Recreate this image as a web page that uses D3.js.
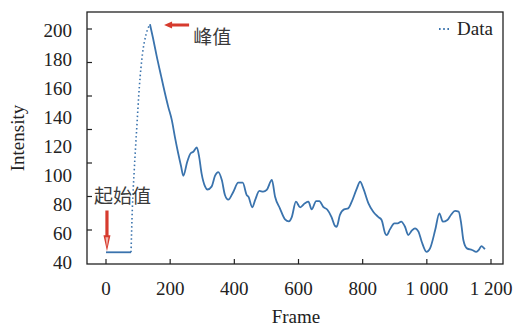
<!DOCTYPE html>
<html>
<head>
<meta charset="utf-8">
<script src="https://cdn.jsdelivr.net/npm/d3@7"></script>
<style>
  body { margin: 0; background: #fff; }
  svg text { font-family: "Liberation Serif", "DejaVu Serif", serif; fill: #222; }
  svg text.cjk { font-family: "Noto Sans CJK SC", sans-serif; fill: #3a3a3a; }
</style>
</head>
<body>
<div id="chart"></div>
<script>
// values
const frames = [0, 78, 82, 88, 96, 104, 114, 125, 137,
  146, 158, 172, 179, 194, 205, 215, 225, 234, 241,
  253, 264, 272, 283, 290, 298, 309, 316, 329, 340,
  350, 361, 371, 381, 397, 412, 426, 439, 444, 456,
  465, 478, 490, 501, 517, 527, 542, 558, 570, 579,
  592, 605, 620, 631, 641, 655, 665, 677, 690, 703,
  714, 719, 729, 742, 755, 766, 782, 792, 802, 818,
  833, 849, 859, 870, 875, 885, 899, 909, 920, 932,
  942, 953, 963, 974, 984, 999, 1010, 1026, 1039, 1050,
  1064, 1075, 1088, 1099, 1107, 1114, 1125, 1141, 1154, 1162,
  1170, 1181];
const intensity = [46.7, 46.7, 76, 103, 133, 161, 184, 197, 204,
  195, 182, 168, 161, 147, 138, 126, 115, 106, 99.5,
  109, 115, 116, 119, 113, 101, 92, 90, 92, 99.5,
  102, 96.5, 86, 83, 88.5, 94.7, 94.7, 86, 85, 77.7,
  82.8, 89, 88.5, 89.7, 96.6, 85, 77, 69.4, 68, 71,
  81.6, 77.7, 80.5, 81.6, 76.3, 82, 82, 78, 76, 71,
  64.8, 64.3, 72.4, 76.3, 77, 81.6, 90.8, 95.4, 90.8, 80.5,
  74.7, 71, 69, 59.8, 58.6, 62.5, 66.7, 66.7, 67.8, 64.3,
  58.6, 61.6, 63.2, 60.9, 54, 47, 49.4, 62, 73.6, 67.8,
  69, 72.4, 75.2, 74.7, 66.7, 55, 49.4, 48.3, 47, 48.3,
  51, 48.8];
const xTicks = [0, 200, 400, 600, 800, 1000, 1200];
const yTicks = [40, 60, 80, 100, 120, 140, 160, 180, 200];
const yMarkTicks = [80, 100, 120, 140, 160, 180, 200];

const width = 514, height = 327;
const plotLeft = 87, plotRight = 503, plotTop = 12, plotBottom = 264;
const lineColor = '#3a73ad', red = '#d63b2e';

const svg = d3.select('#chart').append('svg')
  .attr('width', width).attr('height', height);

const x = d3.scaleLinear().domain([0, 1200]).range([106, 491]);
const y = d3.scaleLinear().domain([40, 200]).range([262, 30]);
// the tick marks of the original axis do not sit on the labels
const yMark = d3.scaleLinear().domain([60, 200]).range([263.5, 29]);

const data = frames.map((f, i) => ({ f: f, v: intensity[i] }));

// frame
svg.append('rect')
  .attr('x', plotLeft).attr('y', plotTop)
  .attr('width', plotRight - plotLeft).attr('height', plotBottom - plotTop)
  .attr('fill', 'none').attr('stroke', '#222').attr('stroke-width', 1.3);

// x ticks (inward)
svg.append('g').selectAll('line').data(xTicks).enter().append('line')
  .attr('x1', d => x(d)).attr('x2', d => x(d))
  .attr('y1', plotBottom).attr('y2', plotBottom - 5)
  .attr('stroke', '#222').attr('stroke-width', 1.2);
svg.append('g').selectAll('text').data(xTicks).enter().append('text')
  .attr('x', d => x(d)).attr('y', 295)
  .attr('text-anchor', 'middle').style('font-size', '19px')
  .text(d => d >= 1000 ? d3.format(',')(d).replace(',', ' ') : d);

// y ticks
svg.append('g').selectAll('line').data(yMarkTicks).enter().append('line')
  .attr('x1', plotLeft).attr('x2', plotLeft + 5)
  .attr('y1', d => yMark(d)).attr('y2', d => yMark(d))
  .attr('stroke', '#222').attr('stroke-width', 1.2);
svg.append('g').selectAll('text').data(yTicks).enter().append('text')
  .attr('x', 72).attr('y', d => y(d)).attr('dy', '0.35em')
  .attr('text-anchor', 'end').style('font-size', '19px')
  .text(d => d);

// axis titles
svg.append('text')
  .attr('transform', 'translate(24,138) rotate(-90)')
  .attr('text-anchor', 'middle').style('font-size', '19px')
  .text('Intensity');
svg.append('text')
  .attr('x', 296).attr('y', 323)
  .attr('text-anchor', 'middle').style('font-size', '19px')
  .text('Frame');

// data line: sparse steep rise shows up as dots
const line = d3.line().x(d => x(d.f)).y(d => y(d.v)).curve(d3.curveMonotoneX);
const rise = data.filter(d => d.f >= 78 && d.f <= 137);
const flat = data.filter(d => d.f <= 78);
const rest = data.filter(d => d.f >= 137);

svg.append('path').datum(flat).attr('d', line)
  .attr('fill', 'none').attr('stroke', lineColor).attr('stroke-width', 1.8);
svg.append('path').datum(rise).attr('d', line)
  .attr('fill', 'none').attr('stroke', lineColor).attr('stroke-width', 1.6)
  .attr('stroke-dasharray', '1.5 2.6');
svg.append('path').datum(rest).attr('d', line)
  .attr('fill', 'none').attr('stroke', lineColor).attr('stroke-width', 1.8)
  .attr('stroke-linejoin', 'round');

// legend
svg.append('line')
  .attr('x1', 439).attr('x2', 451).attr('y1', 29).attr('y2', 29)
  .attr('stroke', lineColor).attr('stroke-width', 1.8)
  .attr('stroke-dasharray', '1.6 2.6');
svg.append('text').attr('x', 457).attr('y', 35)
  .style('font-size', '19px').text('Data');

// annotation: peak (arrow pointing left)
const px0 = x(181), px1 = x(259), py = y(203.5);
svg.append('path')
  .attr('d', `M${px0},${py} L${px0 + 8},${py - 3.5} L${px0 + 8},${py - 1.5} L${px1},${py - 1.5} L${px1},${py + 1.5} L${px0 + 8},${py + 1.5} L${px0 + 8},${py + 3.5} Z`)
  .attr('fill', red);
svg.append('text').attr('class', 'cjk')
  .attr('x', x(272)).attr('y', 44)
  .style('font-size', '19px').text('峰值');

// annotation: start value (arrow pointing down)
const sx = x(3), sy0 = y(75.5), sy1 = y(47.5);
svg.append('path')
  .attr('d', `M${sx},${sy1} L${sx - 3.5},${sy1 - 16} L${sx - 1.6},${sy1 - 16} L${sx - 1.6},${sy0} L${sx + 1.6},${sy0} L${sx + 1.6},${sy1 - 16} L${sx + 3.5},${sy1 - 16} Z`)
  .attr('fill', red);
svg.append('path')
  .attr('d', `M${sx},${sy1 - 4} L${sx - 1.5},${sy1 - 14} L${sx + 1.5},${sy1 - 14} Z`)
  .attr('fill', '#f3b6ae');
svg.append('text').attr('class', 'cjk')
  .attr('x', 94).attr('y', 203)
  .style('font-size', '19px').text('起始值');
</script>
</body>
</html>
